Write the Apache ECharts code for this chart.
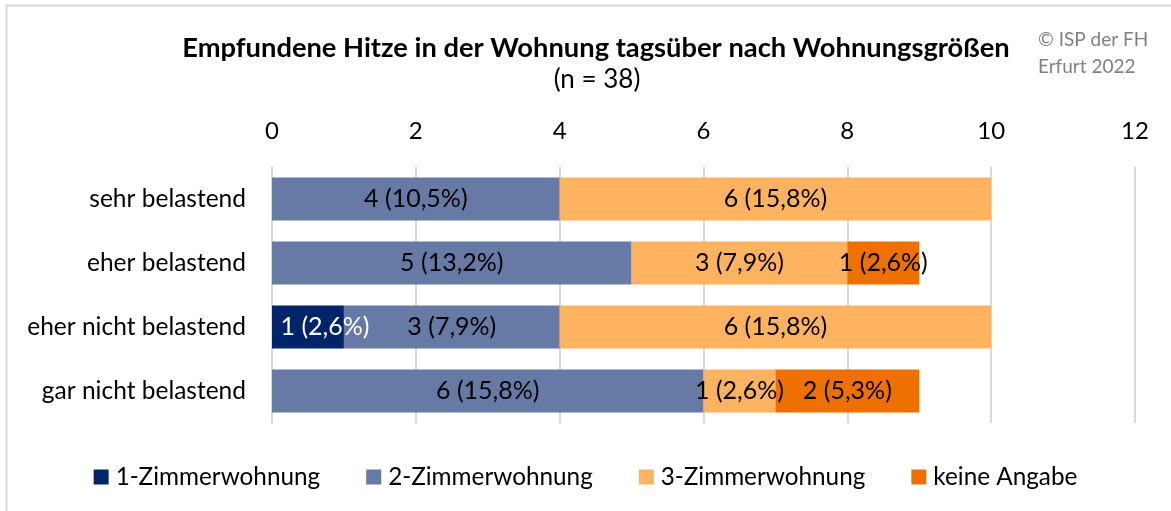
<!DOCTYPE html>
<html>
<head>
<meta charset="utf-8">
<script src="https://cdn.jsdelivr.net/npm/echarts@6/dist/echarts.min.js"></script>
<style>
html,body{margin:0;padding:0;background:#fff;}
#c{width:1171px;height:511px;}
</style>
</head>
<body>
<div id="c"></div>
<script>
const categories = ['sehr belastend', 'eher belastend', 'eher nicht belastend', 'gar nicht belastend'];
const seriesNames = ['1-Zimmerwohnung', '2-Zimmerwohnung', '3-Zimmerwohnung', 'keine Angabe'];
const oneRoom = [0, 0, 1, 0];
const twoRoom = [4, 5, 3, 6];
const threeRoom = [6, 3, 6, 1];
const noAnswer = [0, 1, 0, 2];
const totalN = 38;
const xTicks = [0, 2, 4, 6, 8, 10, 12];

const FONT = 'Lato';
const colors = ['#002469', '#6779A5', '#FFB361', '#EE7000'];
const labelColors = ['#ffffff', '#000000', '#000000', '#000000'];
const labelOffsets = [[17, 0], [0, 0], [0, 0], [0, 0]];

function fmt(v) {
  return v + ' (' + (v / totalN * 100).toFixed(1).replace('.', ',') + '%)';
}

const chart = echarts.init(document.getElementById('c'), null, {renderer: 'canvas'});
const allData = [oneRoom, twoRoom, threeRoom, noAnswer];

const series = allData.map((arr, i) => ({
  name: seriesNames[i],
  type: 'bar',
  stack: 'total',
  barWidth: 43,
  itemStyle: {color: colors[i]},
  data: arr.map(v => v === 0 ? null : v),
  label: {
    show: true,
    position: 'inside',
    offset: labelOffsets[i],
    color: labelColors[i],
    fontFamily: FONT,
    fontSize: 25,
    formatter: p => (p.value ? fmt(p.value) : '')
  },
  emphasis: {disabled: true}
}));

chart.setOption({
  animation: false,
  textStyle: {fontFamily: FONT},
  title: [{
    text: 'Empfundene Hitze in der Wohnung tagsüber nach Wohnungsgrößen',
    left: 591, top: 30, textAlign: 'center',
    textStyle: {fontFamily: FONT, fontWeight: 'bold', fontSize: 27.3, color: '#000'}
  }, {
    text: '(n = 38)',
    left: 592, top: 62, textAlign: 'center',
    textStyle: {fontFamily: FONT, fontWeight: 'normal', fontSize: 26, color: '#000'}
  }, {
    text: '© ISP der FH\nErfurt 2022',
    left: 1033, top: 21,
    textStyle: {fontFamily: FONT, fontWeight: 'normal', fontSize: 19, lineHeight: 27, color: '#808080'}
  }],
  graphic: [{
    type: 'rect',
    shape: {x: 6.5, y: 5.5, width: 1300, height: 700},
    style: {fill: 'none', stroke: '#d9d9d9', lineWidth: 2},
    silent: true
  }],
  legend: {
    top: 460,
    left: 'center',
    itemWidth: 15,
    itemHeight: 15,
    itemGap: 46,
    icon: 'rect',
    textStyle: {fontFamily: FONT, fontSize: 24.3, color: '#000', padding: [0, 0, 0, 2]},
    data: seriesNames
  },
  grid: {left: 272, right: 36, top: 167, bottom: 88, containLabel: false},
  xAxis: {
    type: 'value',
    position: 'top',
    min: 0, max: 12, interval: 2,
    axisLine: {show: false},
    axisTick: {show: false},
    axisLabel: {fontFamily: FONT, fontSize: 24, color: '#000', margin: 24,
      formatter: v => xTicks.includes(v) ? String(v) : ''},
    splitLine: {show: true, lineStyle: {color: '#d9d9d9', width: 2}}
  },
  yAxis: {
    type: 'category',
    inverse: true,
    data: categories,
    axisLine: {show: true, lineStyle: {color: '#d9d9d9', width: 2}},
    axisTick: {show: false},
    axisLabel: {fontFamily: FONT, fontSize: 24.5, color: '#000', margin: 26}
  },
  series: series
});
</script>
</body>
</html>
